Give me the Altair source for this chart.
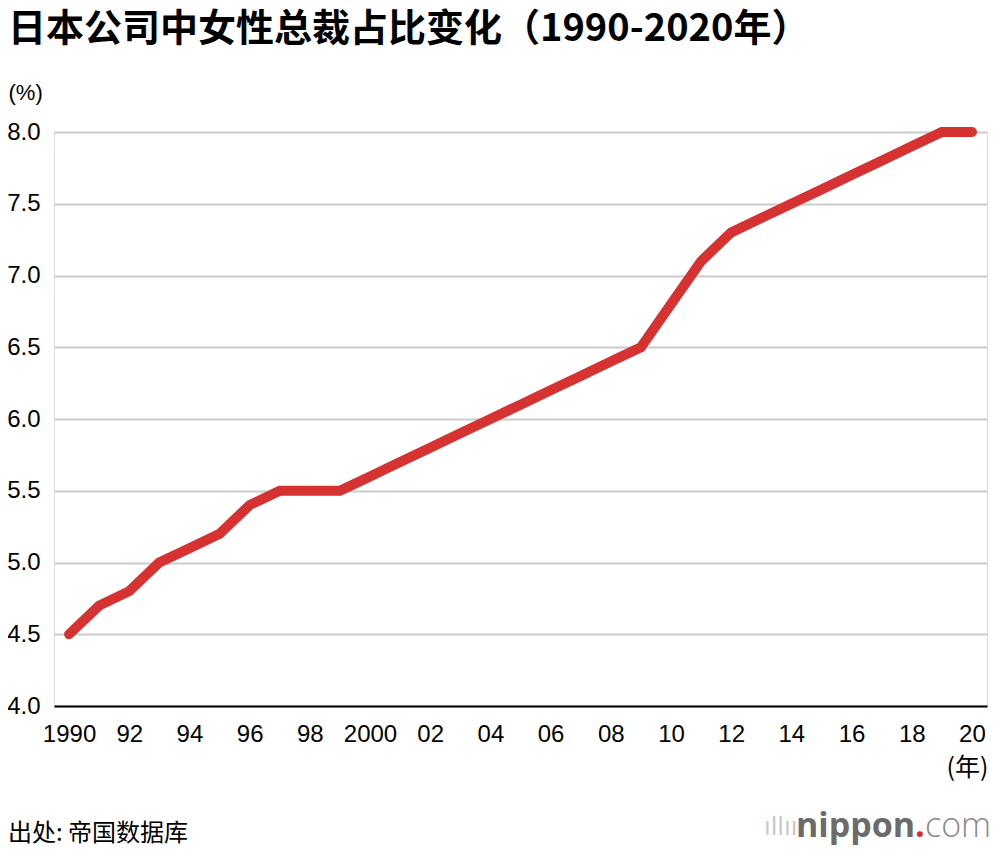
import altair as alt
import pandas as pd

years = list(range(1990, 2021))
share = [4.5, 4.7, 4.8, 5.0, 5.1, 5.2, 5.4, 5.5, 5.5, 5.5,
         5.6, 5.7, 5.8, 5.9, 6.0, 6.1, 6.2, 6.3, 6.4, 6.5,
         6.8, 7.1, 7.3, 7.4, 7.5, 7.6, 7.7, 7.8, 7.9, 8.0, 8.0]
x_ticks = list(range(1990, 2021, 2))
x_tick_labels = ["1990", "92", "94", "96", "98", "2000", "02", "04", "06", "08",
                 "10", "12", "14", "16", "18", "20"]
y_ticks = [4.0, 4.5, 5.0, 5.5, 6.0, 6.5, 7.0, 7.5, 8.0]

title_text = "日本公司中女性总裁占比变化（1990-2020年）"
source_text = "出处: 帝国数据库"

df = pd.DataFrame({"year": years, "share": share})

label_expr = " : ".join(
    [f"datum.value == {v} ? '{l}'" for v, l in zip(x_ticks, x_tick_labels)]
) + " : ''"

LATIN = "Liberation Sans"
CJK = "Noto Sans CJK SC"

line = alt.Chart(df).mark_line(
    color="#d63232", strokeWidth=10, strokeCap="round", strokeJoin="miter"
).encode(
    x=alt.X("year:Q",
            scale=alt.Scale(domain=[1989.5, 2020.5], nice=False, zero=False),
            axis=alt.Axis(values=x_ticks, labelExpr=label_expr, ticks=False,
                          grid=False, domain=True, domainColor="#000000",
                          domainWidth=2, labelFont=LATIN, labelFontSize=24,
                          labelColor="#000000", labelPadding=16,
                          labelBaseline="top",
                          title="(年)", titleFont=CJK, titleFontSize=25,
                          titleFontWeight="normal", titleColor="#000000",
                          titleAnchor="start", titleAlign="center",
                          titleX=913, titleY=61, titleBaseline="middle")),
    y=alt.Y("share:Q",
            scale=alt.Scale(domain=[4.0, 8.0], nice=False, zero=False),
            axis=alt.Axis(values=y_ticks, format=".1f", ticks=False,
                          domain=False, grid=True, gridColor="#cccccc",
                          gridWidth=2, labelFont=LATIN, labelFontSize=24,
                          labelColor="#000000", labelPadding=14,
                          title="(%)", titleFont=LATIN, titleFontSize=22,
                          titleFontWeight="normal", titleColor="#000000",
                          titleAngle=0, titleAlign="left", titleBaseline="middle",
                          titleX=-46, titleY=-40)),
)

ann = pd.DataFrame({"t": [source_text]})
source = alt.Chart(ann).mark_text(
    font=CJK, fontSize=24, color="#000000", align="left", baseline="middle"
).encode(text="t:N", x=alt.value(-46), y=alt.value(702))

logo_df1 = pd.DataFrame({"t": ["nippon"]})
logo1 = alt.Chart(logo_df1).mark_text(
    font="Open Sans", fontSize=34, fontWeight="bold", color="#6b6b6b",
    align="left", baseline="alphabetic"
).encode(text="t:N", x=alt.value(742), y=alt.value(705))

logo_df2 = pd.DataFrame({"t": ["."]})
logo2 = alt.Chart(logo_df2).mark_text(
    font="Open Sans", fontSize=34, fontWeight="bold", color="#e8242b",
    align="left", baseline="alphabetic"
).encode(text="t:N", x=alt.value(861), y=alt.value(705))

logo_df3 = pd.DataFrame({"t": ["com"]})
logo3 = alt.Chart(logo_df3).mark_text(
    font="Open Sans", fontSize=34, fontWeight=300, color="#8a8a8a",
    align="left", baseline="alphabetic"
).encode(text="t:N", x=alt.value(871), y=alt.value(705))

logo_df4 = pd.DataFrame({"t": ["ıllıı"]})
logo4 = alt.Chart(logo_df4).mark_text(
    font="DejaVu Sans", fontSize=24, color="#c8c8c8",
    align="left", baseline="alphabetic"
).encode(text="t:N", x=alt.value(710), y=alt.value(703))

chart = alt.layer(line, source, logo4, logo1, logo2, logo3).properties(
    width=933, height=574,
    title=alt.TitleParams(title_text, font=CJK, fontSize=38, fontWeight="bold",
                          color="#000000", anchor="start", frame="group",
                          dx=-46, offset=32),
    autosize=alt.AutoSizeParams(type="none"),
    padding={"left": 46, "top": 124, "right": 5, "bottom": 142},
).configure_view(stroke=None).configure(background="#ffffff")

chart.save("out.html", embed_options={"renderer": "svg", "actions": False})
